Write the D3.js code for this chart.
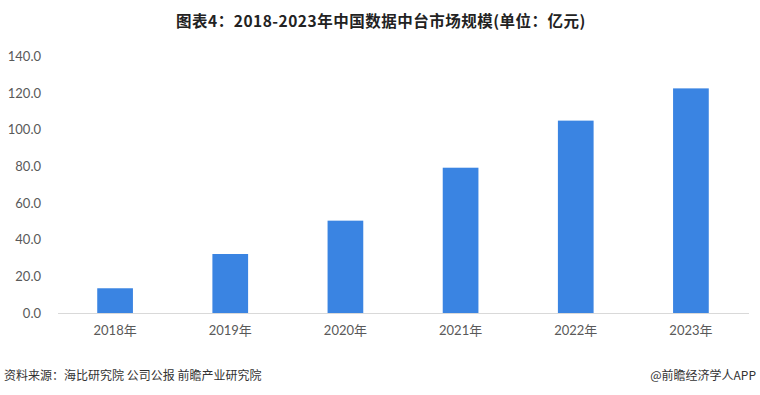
<!DOCTYPE html>
<html><head><meta charset="utf-8">
<script src="https://cdn.jsdelivr.net/npm/d3@7"></script>
<style>body{margin:0;background:#fff}svg{display:block}</style>
</head><body>
<svg id="c" width="760" height="395"></svg>
<script>
const categories = ["2018年","2019年","2020年","2021年","2022年","2023年"];
const values = [13.5, 32.2, 50.4, 79.3, 105.0, 122.6];
const yTicks = [0,20,40,60,80,100,120,140];
const title = "图表4：2018-2023年中国数据中台市场规模(单位：亿元)";
const source = "资料来源：海比研究院 公司公报 前瞻产业研究院";
const credit = "@前瞻经济学人APP";

const svg = d3.select("#c");
const font = "'Noto Sans CJK SC','Microsoft YaHei',sans-serif";
const x = d3.scaleBand().domain(categories).range([57.5, 748.5]).paddingInner(0.69).paddingOuter(0.345);
const y = d3.scaleLinear().domain([0,140]).range([313, 56.5]);

svg.append("text").attr("x",381).attr("y",27).attr("text-anchor","middle")
  .attr("font-family",font).attr("font-weight","bold").attr("font-size",15.5)
  .attr("letter-spacing",0.5).attr("fill","#222").text(title);

const ya = svg.append("g").attr("transform","translate(44,0)")
  .call(d3.axisLeft(y).tickValues(yTicks).tickFormat(d3.format(".1f")).tickSize(0));
ya.select(".domain").remove();
ya.selectAll("text").attr("font-family","Lato, 'Noto Sans', sans-serif").attr("font-size",13).attr("fill","#595959");

svg.selectAll("rect.bar").data(values).enter().append("rect").attr("class","bar")
  .attr("x",(d,i)=>x(categories[i])).attr("width",x.bandwidth())
  .attr("y",d=>y(d)).attr("height",d=>y(0)-y(d)).attr("fill","#3a84e2");

const xa = svg.append("g").attr("transform",`translate(0,${y(0)})`)
  .call(d3.axisBottom(x).tickSize(0).tickPadding(13));
xa.select(".domain").attr("stroke","#d9d9d9");
xa.selectAll("text").attr("font-family","Lato, 'Noto Sans CJK SC', sans-serif").attr("font-size",13).attr("fill","#595959");

svg.append("text").attr("x",4).attr("y",380).attr("font-family",font).attr("font-size",12).attr("fill","#333").text(source);
svg.append("text").attr("x",756).attr("y",380).attr("text-anchor","end").attr("font-family",font).attr("font-size",12).attr("fill","#333").text(credit);
</script>
</body></html>
